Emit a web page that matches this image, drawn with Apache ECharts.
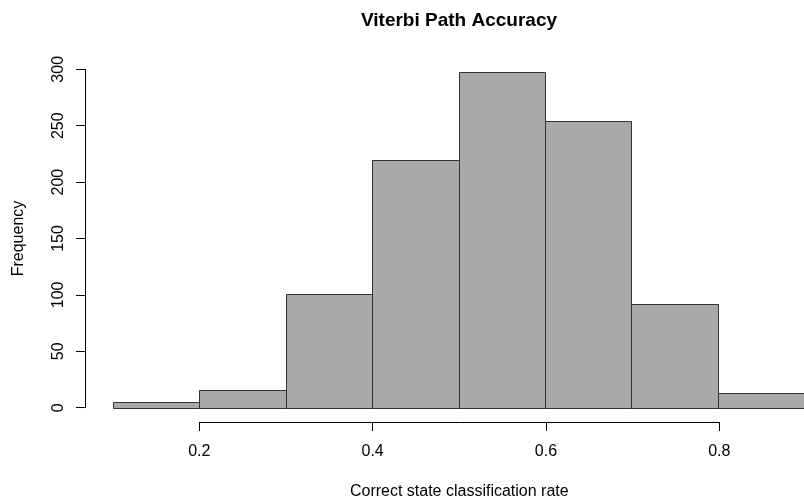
<!DOCTYPE html>
<html>
<head>
<meta charset="utf-8">
<script src="https://cdn.jsdelivr.net/npm/echarts@6/dist/echarts.min.js"></script>
<style>
  html, body { margin: 0; padding: 0; background: #fff; }
  #chart { width: 804px; height: 502px; }
</style>
</head>
<body>
<div id="chart"></div>
<script>
// Histogram of correct state classification rates (bin width 0.1)
const binStarts = [0.1, 0.2, 0.3, 0.4, 0.5, 0.6, 0.7, 0.8];
const binWidth = 0.1;
const counts = [5, 16, 101, 220, 298, 254, 92, 13];
const xTicks = [0.2, 0.4, 0.6, 0.8];
const yTicks = [0, 50, 100, 150, 200, 250, 300];

const FONT = '"Liberation Sans", Arial, sans-serif';

const bins = binStarts.map((s, i) => [s, s + binWidth, counts[i]]);

const chart = echarts.init(document.getElementById('chart'), null, { renderer: 'canvas' });

chart.setOption({
  animation: false,
  backgroundColor: '#ffffff',
  title: {
    text: 'Viterbi Path Accuracy',
    left: 459,
    top: 11,
    padding: 0,
    textAlign: 'center',
    textStyle: { fontFamily: FONT, fontSize: 19, fontWeight: 'bold', color: '#000' }
  },
  grid: [
    { left: 113, right: -2, top: 69.3, bottom: 94.3 },
    // narrower strip carrying the x axis, spanning the labelled ticks only
    { left: 199.3, width: 520, top: 420, height: 2 }
  ],
  xAxis: [
    {
      gridIndex: 0, type: 'value',
      min: binStarts[0], max: binStarts[binStarts.length - 1] + binWidth,
      show: false
    },
    {
      gridIndex: 1, type: 'value', position: 'bottom',
      min: xTicks[0], max: xTicks[xTicks.length - 1], interval: 0.2,
      name: 'Correct state classification rate',
      nameLocation: 'middle', nameGap: 62,
      nameTextStyle: { fontFamily: FONT, fontSize: 16, color: '#000' },
      axisLine: { show: true, lineStyle: { color: '#000', width: 1 } },
      axisTick: { show: true, length: 9, lineStyle: { color: '#000', width: 1 } },
      axisLabel: {
        fontFamily: FONT, fontSize: 16, color: '#000', margin: 22,
        formatter: v => xTicks.find(t => Math.abs(t - v) < 1e-9).toFixed(1)
      },
      splitLine: { show: false }
    }
  ],
  yAxis: [
    {
      gridIndex: 0, type: 'value',
      min: yTicks[0], max: yTicks[yTicks.length - 1], interval: 50,
      offset: 28,
      name: 'Frequency', nameLocation: 'middle', nameGap: 58,
      nameTextStyle: { fontFamily: FONT, fontSize: 16, color: '#000' },
      axisLine: { show: true, lineStyle: { color: '#000', width: 1 } },
      axisTick: { show: true, length: 9, lineStyle: { color: '#000', width: 1 } },
      axisLabel: { fontFamily: FONT, fontSize: 16, color: '#000', rotate: 90, margin: 18 },
      splitLine: { show: false }
    },
    { gridIndex: 1, type: 'value', show: false }
  ],
  series: [{
    type: 'custom',
    xAxisIndex: 0, yAxisIndex: 0,
    data: bins,
    encode: { x: [0, 1], y: 2 },
    renderItem: function (params, api) {
      const topLeft = api.coord([api.value(0), api.value(2)]);
      const bottomRight = api.coord([api.value(1), 0]);
      return {
        type: 'rect',
        shape: {
          x: Math.round(topLeft[0]) + 0.5,
          y: Math.round(topLeft[1]) + 0.5,
          width: Math.round(bottomRight[0]) - Math.round(topLeft[0]),
          height: Math.round(bottomRight[1]) - Math.round(topLeft[1])
        },
        style: { fill: '#a9a9a9', stroke: '#333333', lineWidth: 1 }
      };
    }
  }]
});
</script>
</body>
</html>
